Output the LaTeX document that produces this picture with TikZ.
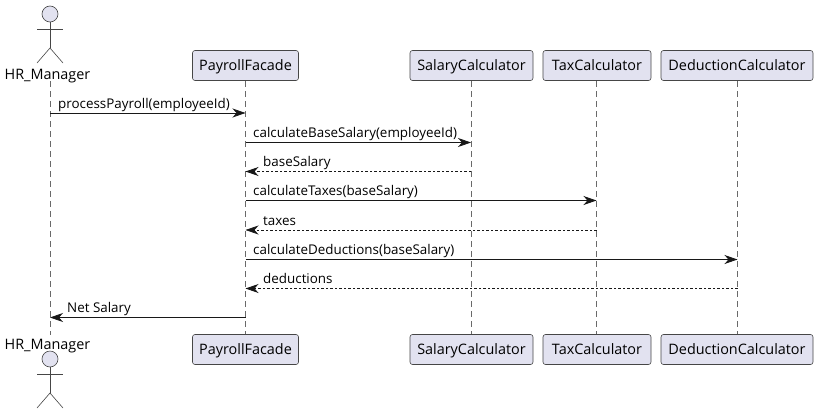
\documentclass[tikz,border=0pt]{standalone}
\usepackage{fontspec}
\setmainfont{Open Sans}
\usetikzlibrary{arrows.meta}

\definecolor{partfill}{HTML}{E2E2F0}
\definecolor{partline}{HTML}{181818}

\tikzset{
    part/.style={draw=partline!80, fill=partfill, line width=0.6pt, rounded corners=2.5pt,
        minimum height=30pt, inner sep=0pt, text height=11.5pt, text depth=2.5pt,
        font=\fontsize{14.4pt}{16pt}\selectfont},
    actorname/.style={inner sep=0pt, text height=11.5pt, text depth=2.5pt,
        font=\fontsize{14.4pt}{16pt}\selectfont},
    stick/.style={draw=partline!80, line width=0.6pt},
    lifeline/.style={draw=partline!65, line width=0.7pt, dash pattern=on 5.5pt off 4.5pt},
    call/.style={draw=partline, line width=0.8pt, -{Stealth[length=13pt, width=9pt, inset=4pt]}},
    reply/.style={call, dash pattern=on 2.5pt off 2pt},
    msg/.style={anchor=base west, inner sep=0pt, font=\fontsize{13.4pt}{15pt}\selectfont}
}

\begin{document}
\begin{tikzpicture}[x=1pt, y=-1pt]

    \useasboundingbox (0,0) rectangle (818,415);
    \fill[white] (0,0) rectangle (818,415);

    % lifeline ends
    \foreach \name/\x in {hr/50,facade/245.5,salary/471,tax/596.5,deduction/737.5} {
        \coordinate (\name T) at (\x,81);
        \coordinate (\name B) at (\x,335);
        \draw[lifeline] (\name T) -- (\name B);
    }

    % participants
    \foreach \name/\x/\w/\txt in {facade/245.5/106/PayrollFacade,
        salary/471.5/123/SalaryCalculator,
        tax/597/108/TaxCalculator,
        deduction/737/152/DeductionCalculator} {
        \node[part, minimum width=\w pt] (\name Top) at (\x,65.5) {\txt};
        \node[part, minimum width=\w pt] (\name Bot) at (\x,349.5) {\txt};
    }

    % actor, top and bottom
    \foreach \pos/\hy/\ly in {Top/14/75,Bot/359/345} {
        \node[actorname] (hr\pos) at (47.5,\ly) {HR\_Manager};
        \node[stick, fill=partfill, circle, minimum size=16pt, inner sep=0pt] (head\pos) at (50,\hy) {};
        \coordinate (hip\pos) at (50,\hy+34);
        \coordinate (armL\pos) at (37,\hy+15);
        \coordinate (armR\pos) at (63,\hy+15);
        \coordinate (footL\pos) at (37,\hy+49);
        \coordinate (footR\pos) at (63,\hy+49);
        \draw[stick] (head\pos) -- (hip\pos);
        \draw[stick] (armL\pos) -- (armR\pos);
        \draw[stick] (footL\pos) -- (hip\pos) -- (footR\pos);
    }

    % messages
    \foreach \i/\a/\b/\y/\sty/\lx/\txt in {
        1/hr/facade/113/call/58/processPayroll(employeeId),
        2/facade/salary/142.5/call/253/calculateBaseSalary(employeeId),
        3/salary/facade/171.5/reply/263/baseSalary,
        4/facade/tax/200.5/call/253/calculateTaxes(baseSalary),
        5/tax/facade/230/reply/263/taxes,
        6/facade/deduction/259.5/call/253/calculateDeductions(baseSalary),
        7/deduction/facade/288.5/reply/263/deductions,
        8/facade/hr/317.5/call/67/Net Salary} {
        \coordinate (from\i) at (\a T |- 0,\y);
        \coordinate (to\i) at (\b T |- 0,\y);
        \draw[\sty] (from\i) -- (to\i);
        \node[msg] (label\i) at (\lx,\y-5) {\txt};
    }

\end{tikzpicture}
\end{document}
